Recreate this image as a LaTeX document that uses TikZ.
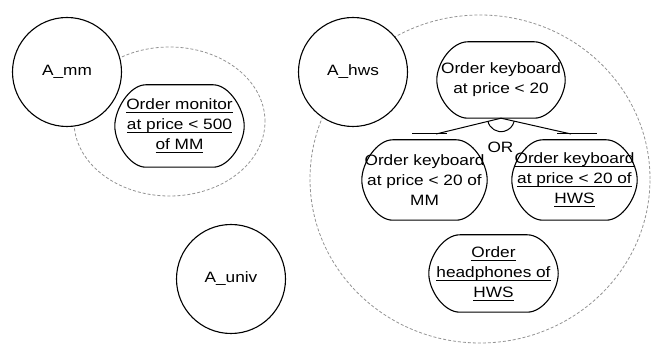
\documentclass[tikz,border=0pt]{standalone}
\usepackage{fontspec}
\setmainfont[FakeStretch=1.15]{Liberation Sans}
\usetikzlibrary{shapes.geometric}
% underline a line of text with a rule at a fixed depth below the baseline
\newsavebox{\ulnbox}
\newcommand{\uln}[1]{\sbox{\ulnbox}{#1}\rlap{\rule[-3.5pt]{\wd\ulnbox}{0.9pt}}\usebox{\ulnbox}}
% outline of a goal: straight top and bottom, rounded ends
\newcommand{\goaloutline}[1]{%
  \draw[goalline] ([xshift=31pt]#1.north west) -- ([xshift=-31pt]#1.north east)
    .. controls +(16,0) and +(0,-17) .. (#1.east)
    .. controls +(0,17) and +(16,0) .. ([xshift=-31pt]#1.south east)
    -- ([xshift=31pt]#1.south west)
    .. controls +(-16,0) and +(0,17) .. (#1.west)
    .. controls +(0,-17) and +(-16,0) .. ([xshift=31pt]#1.north west) -- cycle;}
\begin{document}
\begin{tikzpicture}[x=1pt, y=-1pt,
  font=\fontsize{15pt}{20pt}\selectfont,
  agent/.style={circle, draw, line width=1.1pt, fill=white, minimum size=109pt, inner sep=0pt},
  goal/.style={rectangle, minimum width=128pt, minimum height=80pt, inner sep=0pt, align=center},
  goalline/.style={line width=1.1pt},
  boundary/.style={ellipse, draw=gray!85, dash pattern=on 3pt off 2pt, line width=0.8pt, inner sep=0pt},
  link/.style={line width=1pt}]
\useasboundingbox (0,0) rectangle (656,344);

% actor boundaries
\node[boundary, minimum width=191pt, minimum height=149pt] (mmScope) at (169.5,121.5) {};
\node[boundary, minimum width=340pt, minimum height=328pt] (hwsScope) at (480,179) {};

% actors
\node[agent] (amm) at (67,72) {A\_mm};
\node[agent] (ahws) at (353,72) {A\_hws};
\node[agent] (auniv) at (231,279) {A\_univ};

% goals
\node[goal, minimum width=129pt, minimum height=82pt] (monitor) at (179.5,126)
  {\uln{Order monitor}\\\uln{at price < 500}\\\uln{of MM}};
\node[goal, minimum height=76pt] (kb) at (501,80)
  {Order keyboard\\at price < 20};
\node[goal, minimum width=125pt] (kbmm) at (424.5,180)
  {Order keyboard\\at price < 20 of\\MM};
\node[goal, minimum width=125pt] (kbhws) at (574.5,180)
  {\uln{Order keyboard}\\\uln{at price < 20 of}\\\uln{HWS}};
\node[goal, minimum width=129pt, minimum height=77pt] (head) at (493.5,273.5)
  {\uln{Order}\\\uln{headphones of}\\\uln{HWS}};

\goaloutline{monitor}
\goaloutline{kb}
\goaloutline{kbmm}
\goaloutline{kbhws}
\goaloutline{head}

% OR refinement of the keyboard goal
\coordinate (apex) at (kb.south);
\coordinate (joinL) at (436,134);
\coordinate (joinR) at (571,134);
\coordinate (barL1) at (412,134);
\coordinate (barL2) at (447,134);
\coordinate (barR1) at (557,134);
\coordinate (barR2) at (597,134);
\draw[link] (apex) -- (joinL);
\draw[link] (apex) -- (joinR);
\draw[link] (barL1) -- (barL2);
\draw[link] (barR1) -- (barR2);
\draw[link] ([shift={(-13.1,3.1)}]apex) arc[start angle=166.6, end angle=12.9, radius=13.5];
\node (orlabel) at (500.5,147) {OR};
\end{tikzpicture}
\end{document}
